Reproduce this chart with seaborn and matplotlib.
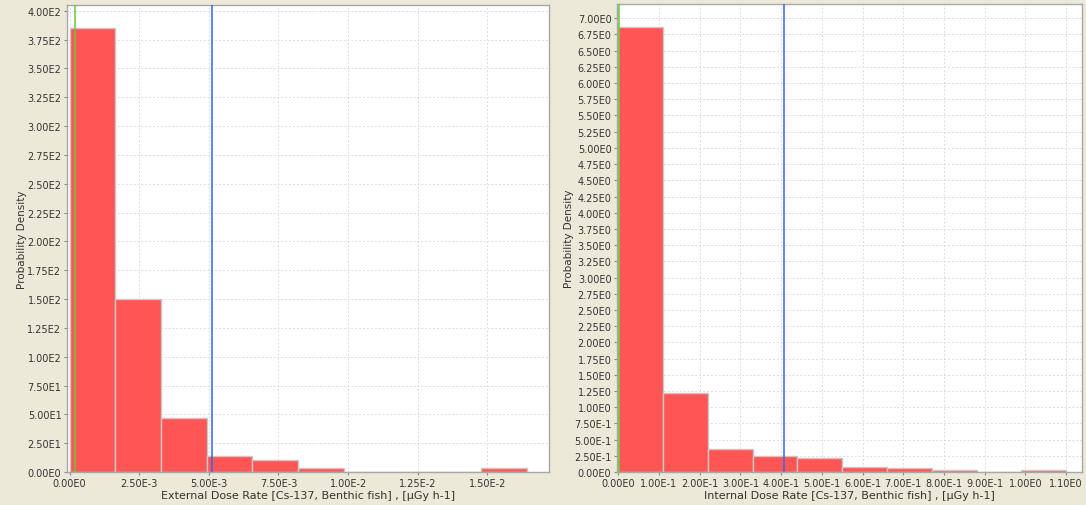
import numpy as np
import pandas as pd
import matplotlib
matplotlib.use("Agg")
import matplotlib.pyplot as plt
import seaborn as sns
from matplotlib.ticker import FuncFormatter, MultipleLocator

# ---- data ----
ext_edges = [0.0, 0.001641, 0.003282, 0.004923, 0.006564, 0.008205,
             0.009846, 0.011487, 0.013128, 0.014769, 0.01641]
ext_density = [385, 150, 47, 14, 10, 3.5, 0, 0, 0, 3.5]
ext_green = 0.000194
ext_blue = 0.00513

int_edges = [0.0, 0.11, 0.22, 0.33, 0.44, 0.55, 0.66, 0.77, 0.88, 0.99, 1.10]
int_density = [6.86, 1.22, 0.36, 0.24, 0.21, 0.08, 0.055, 0.03, 0, 0.03]
int_green = 0.002
int_blue = 0.407

ext_xlabel = "External Dose Rate [Cs-137, Benthic fish] , [µGy h-1]"
int_xlabel = "Internal Dose Rate [Cs-137, Benthic fish] , [µGy h-1]"
ylabel = "Probability Density"

sns.set_theme(style="white")
plt.rcParams['font.family'] = ['DejaVu Sans']

BG = "#ECE9D8"
BAR = "#FF5555"
BAR_EDGE = "#C8C8C8"
GRID = "#DDDDDD"
SPINE = "#A8A8A8"
TXT = "#333333"


def sci(v, pos=None):
    if abs(v) < 1e-12:
        return "0.00E0"
    e = int(np.floor(np.log10(abs(v)) + 1e-9))
    m = v / 10 ** e
    if round(abs(m), 2) >= 10:
        e += 1
        m = v / 10 ** e
    return f"{m:.2f}E{e}"


fig = plt.figure(figsize=(10.86, 5.06), dpi=100, facecolor=BG)
W, H = 1086, 506


def make_ax(x0, x1, y0, y1):
    return fig.add_axes([x0 / W, (H - y1) / H, (x1 - x0) / W, (y1 - y0) / H])


ax1 = make_ax(67, 549, 6, 473)
ax2 = make_ax(617, 1082, 5, 473)


def draw(ax, edges, dens, green, blue, xlim, ylim, xstep, ystep, xlabel):
    centers = [(a + b) / 2 for a, b in zip(edges[:-1], edges[1:])]
    df = pd.DataFrame({"x": centers, "w": dens})
    ax.set_facecolor("white")
    ax.set_axisbelow(True)
    sns.histplot(data=df, x="x", weights="w", bins=list(edges), stat="count",
                 color=BAR, alpha=1.0, edgecolor=BAR_EDGE, linewidth=1.0, ax=ax)
    ax.axvline(green, color="#66CC33", lw=1.1, zorder=5)
    ax.axvline(blue, color="#3366EE", lw=1.1, zorder=5)
    ax.set_xlim(*xlim)
    ax.set_ylim(*ylim)
    ax.xaxis.set_major_locator(MultipleLocator(xstep))
    ax.yaxis.set_major_locator(MultipleLocator(ystep))
    ax.xaxis.set_major_formatter(FuncFormatter(sci))
    ax.yaxis.set_major_formatter(FuncFormatter(sci))
    ax.grid(True, color=GRID, linestyle=(0, (2, 2)), linewidth=0.7)
    for s in ax.spines.values():
        s.set_color(SPINE)
        s.set_linewidth(1.0)
    ax.tick_params(axis="both", which="major", direction="out", length=2.5,
                   width=0.8, color="#888888", labelsize=7, labelcolor=TXT, pad=1.5,
                   bottom=True, left=True)
    ax.set_xlabel(xlabel, fontsize=8, color=TXT, labelpad=2)
    ax.set_ylabel(ylabel, fontsize=7.5, color=TXT, labelpad=0)


draw(ax1, ext_edges, ext_density, ext_green, ext_blue,
     (-0.00009, 0.01721), (0, 405), 0.0025, 25, ext_xlabel)
draw(ax2, int_edges, int_density, int_green, int_blue,
     (-0.003, 1.139), (0, 7.22), 0.1, 0.25, int_xlabel)

fig.savefig("out.png", dpi=100, facecolor=BG)
